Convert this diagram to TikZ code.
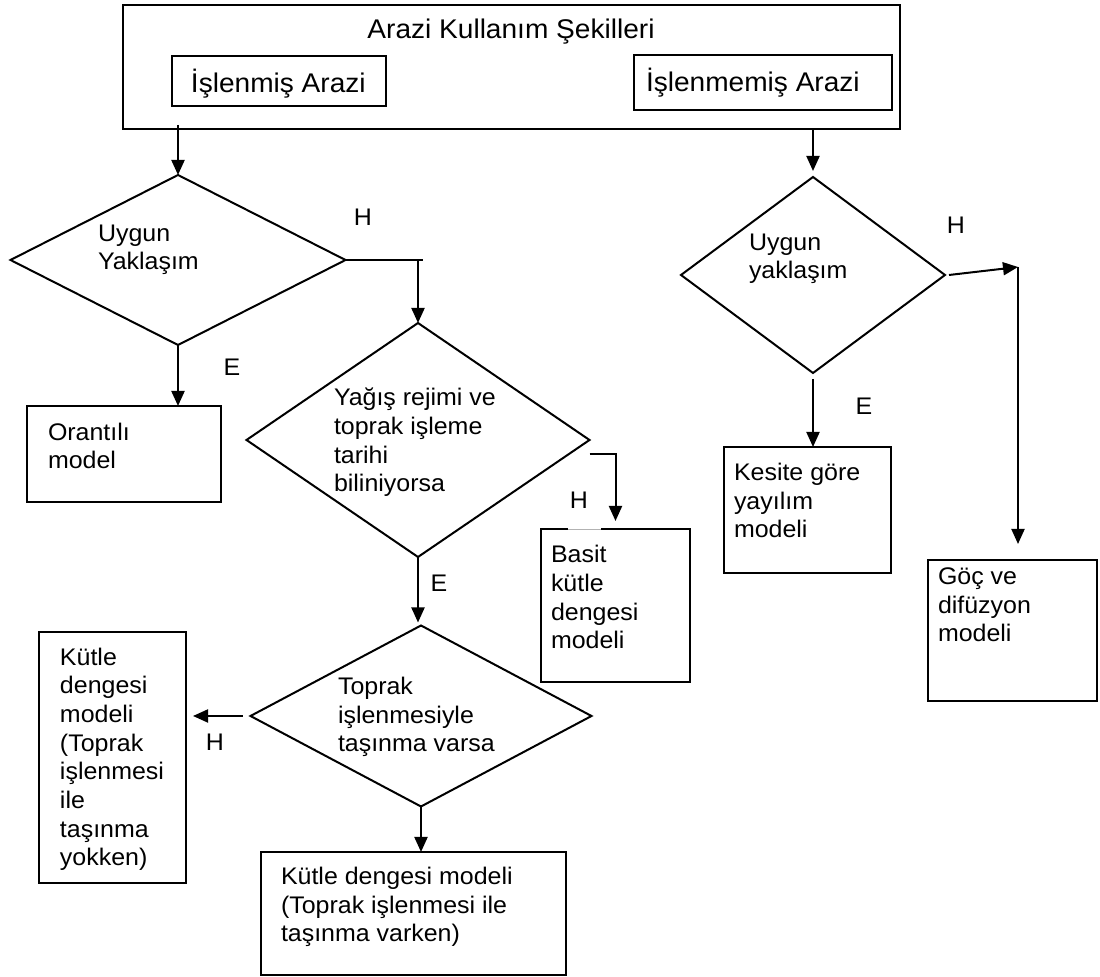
\documentclass[tikz,border=0pt]{standalone}
\usepackage{fontspec}
\setmainfont{Liberation Sans}[FakeStretch=1.04]
\usetikzlibrary{arrows.meta,shapes.geometric,fit}
\newdimen\px \px=0.5pt
\begin{document}
\begin{tikzpicture}[x=1\px, y=-1\px, line width=1pt,
    font=\fontsize{12}{14.35}\selectfont,
    kutu/.style={draw, inner sep=0pt, outer sep=0pt, fit={#1}},
    karar/.style={draw, shape=diamond, inner sep=0pt, outer sep=0pt},
    yazi/.style={inner sep=0pt, anchor=base west, align=left},
    buyuk/.style={font=\fontsize{13.5}{16}\selectfont},
    etiket/.style={inner sep=0pt},
    ok/.style={-{Triangle[length=7.5pt,width=6.5pt]}}]
  \useasboundingbox (0,0) rectangle (1100,977);
  \node[kutu={(123,5) (900,129)}] (arazi) {};
  \node[etiket, buyuk, anchor=base] (baslik) at (511,39) {Arazi Kullanım Şekilleri};
  \node[kutu={(172,56) (386,106)}] (islenmis) {};
  \node[yazi, buyuk] (islenmisy) at (190,93) {İşlenmiş Arazi};
  \node[kutu={(634,55) (892,110)}] (islenmemis) {};
  \node[yazi, buyuk] (islenmemisy) at (645,92) {İşlenmemiş Arazi};

  \node[karar, minimum width=335\px, minimum height=170\px] (d1) at (178,260) {};
  \node[karar, minimum width=343\px, minimum height=234\px] (d2) at (418,440) {};
  \node[karar, minimum width=341\px, minimum height=181\px] (d3) at (421,716) {};
  \node[karar, minimum width=264\px, minimum height=196\px] (d4) at (813,275) {};
  \node[yazi] (d1y) at (97,270) {Uygun\\Yaklaşım};
  \node[yazi] (d2y) at (333,492) {Yağış rejimi ve\\toprak işleme\\tarihi\\biliniyorsa};
  \node[yazi] (d3y) at (337,752) {Toprak\\işlenmesiyle\\taşınma varsa};
  \node[yazi] (d4y) at (748,279) {Uygun\\yaklaşım};

  \node[kutu={(27,406) (221,502)}] (orantili) {};
  \node[kutu={(541,529) (690,682)}] (basit) {};
  \node[kutu={(724,447) (891,573)}] (kesite) {};
  \node[kutu={(928,560) (1097,701)}] (goc) {};
  \node[kutu={(39,632) (186,883)}] (yokken) {};
  \node[kutu={(261,852) (566,975)}] (varken) {};
  \draw[white, line width=1.2pt] (568,529) -- (601,529);
  \draw[gray!60, line width=0.4pt] (568,529) -- (601,529);
  \node[yazi] (orantiliy) at (47,469) {Orantılı\\model};
  \node[yazi] (basity) at (550,649) {Basit\\kütle\\dengesi\\modeli};
  \node[yazi] (kesitey) at (733,538) {Kesite göre\\yayılım\\modeli};
  \node[yazi] (gocy) at (937,642) {Göç ve\\difüzyon\\modeli};
  \node[yazi] (yokkeny) at (59,866) {Kütle\\dengesi\\modeli\\(Toprak\\işlenmesi\\ile\\taşınma\\yokken)};
  \node[yazi] (varkeny) at (280,942) {Kütle dengesi modeli\\(Toprak işlenmesi ile\\taşınma varken)};

  \foreach \ad/\x/\y/\t in {h1/363/217/H, h2/579/500/H, h3/215/742/H, h4/956/225/H,
      e1/232/367/E, e2/439/583/E, e4/864/406/E}
    \node[etiket] (\ad) at (\x,\y) {\t};

  \draw[ok] ([yshift=2pt]arazi.south -| d1.north) -- (d1.north);
  \draw[ok, shorten >=3pt] (arazi.south -| d4.north) -- (d4.north);
  \draw[ok] (d1.south) -- (d1.south |- orantili.north);
  \draw (d1.east) -- ([xshift=2.5pt]d1.east -| d2.north);
  \draw[ok] (d1.east -| d2.north) -- (d2.north);
  \draw[ok, shorten >=4pt] ([yshift=-7pt]d2.east) -| (basit.north);
  \draw[ok, shorten >=1.5pt] (d2.south) -- (d2.south |- d3.north);
  \draw[ok, shorten <=4pt, shorten >=3.5pt] (d3.west) -- (d3.west -| yokken.east);
  \draw[ok] (d3.south) -- (d3.south |- varken.north);
  \draw[ok] ([yshift=-3pt]d4.south) -- (d4.south |- kesite.north);
  \coordinate (k4) at (1018,267);
  \draw[ok] ([xshift=2pt]d4.east) -- (k4);
  \draw[ok, shorten >=8pt] (k4) -- (k4 |- goc.north);
\end{tikzpicture}
\end{document}
